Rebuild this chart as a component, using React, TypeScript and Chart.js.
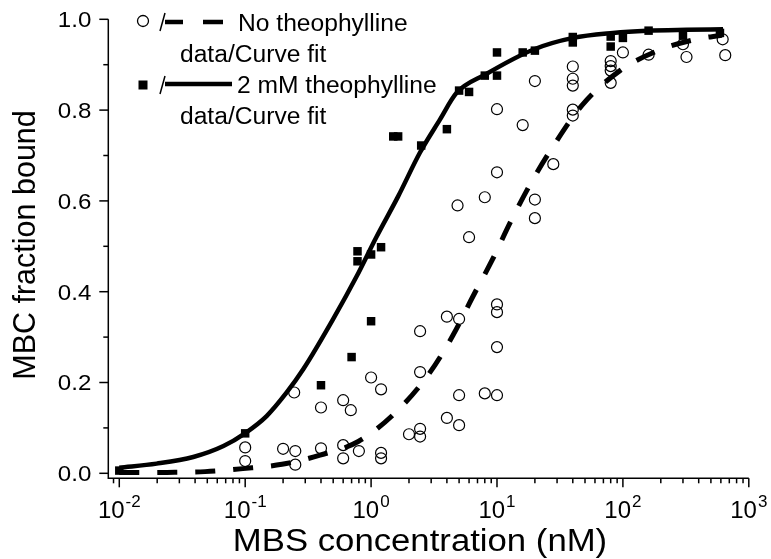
import React, { useEffect, useRef } from 'react';
import { Chart, registerables } from 'chart.js';

Chart.register(...registerables);

// ---- data ----
const theoX = [0.01, 0.1, 0.4, 0.7, 1.0, 0.78, 0.78, 1.0, 1.2, 1.5, 1.64, 2.5, 4, 5, 6, 8, 10, 10, 16, 20, 40, 40, 80, 80, 100, 160, 300, 590];
const theoY = [0.006, 0.088, 0.194, 0.256, 0.335, 0.489, 0.467, 0.482, 0.498, 0.742, 0.742, 0.722, 0.758, 0.843, 0.84, 0.876, 0.876, 0.927, 0.927, 0.931, 0.961, 0.949, 0.962, 0.94, 0.959, 0.975, 0.964, 0.97];

const noTheoX = [0.1, 0.1, 0.2, 0.25, 0.25, 0.245, 0.4, 0.4, 0.6, 0.69, 0.6, 0.6, 0.8, 1.0, 1.2, 1.2, 1.2, 2.0, 2.45, 2.45, 2.45, 2.45, 4, 5, 5, 4, 5, 8, 10, 10, 10, 10, 10, 8, 4.86, 6, 20, 20, 10, 16, 20, 28, 40, 40, 40, 40, 40, 80, 80, 80, 80, 100, 160, 300, 320, 620, 650];
const noTheoY = [0.057, 0.027, 0.054, 0.049, 0.019, 0.178, 0.145, 0.055, 0.161, 0.139, 0.062, 0.033, 0.049, 0.211, 0.185, 0.045, 0.033, 0.086, 0.098, 0.081, 0.313, 0.223, 0.345, 0.34, 0.172, 0.122, 0.106, 0.176, 0.172, 0.372, 0.355, 0.278, 0.663, 0.608, 0.59, 0.52, 0.603, 0.562, 0.802, 0.767, 0.864, 0.681, 0.896, 0.869, 0.854, 0.801, 0.788, 0.908, 0.897, 0.887, 0.86, 0.927, 0.922, 0.945, 0.917, 0.956, 0.921];

const fitTheoX = [0.01, 0.0198, 0.0387, 0.0672, 0.0996, 0.148, 0.2136, 0.289, 0.498, 0.768, 1.1, 1.64, 2.44, 3.52, 4.78, 8.03, 19.3, 40.2, 83.4, 155, 320, 624];
const fitTheoY = [0.0125, 0.0213, 0.0359, 0.06, 0.088, 0.126, 0.178, 0.229, 0.339, 0.434, 0.52, 0.61, 0.706, 0.779, 0.838, 0.878, 0.933, 0.959, 0.97, 0.975, 0.977, 0.978];

const fitNoX = [0.01, 0.0239, 0.048, 0.096, 0.196, 0.393, 0.791, 1.577, 2.88, 4.47, 6.45, 9.21, 12.87, 18.9, 28.5, 47.1, 94.8, 190, 381, 612];
const fitNoY = [0.0015, 0.002, 0.0037, 0.0103, 0.0198, 0.04, 0.07, 0.135, 0.219, 0.304, 0.39, 0.471, 0.555, 0.643, 0.724, 0.81, 0.887, 0.931, 0.956, 0.965];

const xMajorTicks = [0.01, 0.1, 1, 10, 100, 1000];
const xTickExponents = ['-2', '-1', '0', '1', '2', '3'];
const yMajorTicks = [0, 0.2, 0.4, 0.6, 0.8, 1.0];
const yTickLabels = ['0.0', '0.2', '0.4', '0.6', '0.8', '1.0'];
const yMinorTicks = [0.1, 0.3, 0.5, 0.7, 0.9];

const xTitle = 'MBS concentration (nM)';
const yTitle = 'MBC fraction bound';
const legend1 = 'No theophylline';
const legend3 = '2 mM theophylline';
const legendSub = 'data/Curve fit';

const FONT = '"Liberation Sans", Arial, sans-serif';

function pts(xs: number[], ys: number[]) {
  return xs.map((x, i) => ({ x, y: ys[i] }));
}

function txt(ctx: CanvasRenderingContext2D, s: string, x: number, y: number, size: number, align: CanvasTextAlign, sx = 1) {
  ctx.save();
  ctx.font = `${size}px ${FONT}`;
  ctx.translate(x, y);
  ctx.scale(sx, 1);
  ctx.textAlign = align;
  ctx.textBaseline = 'alphabetic';
  ctx.fillStyle = '#000';
  ctx.fillText(s, 0, 0);
  ctx.restore();
}

const axesPlugin = {
  id: 'customAxes',
  afterDraw(chart: any) {
    const ctx: CanvasRenderingContext2D = chart.ctx;
    const xs = chart.scales.x;
    const ys = chart.scales.y;
    const { left, right, top, bottom } = chart.chartArea;
    ctx.save();
    ctx.strokeStyle = '#000';
    ctx.lineWidth = 1.5;
    ctx.lineCap = 'butt';
    // axis lines
    ctx.beginPath();
    ctx.moveTo(left, top);
    ctx.lineTo(left, bottom);
    ctx.lineTo(right, bottom);
    ctx.stroke();
    // y ticks
    yMajorTicks.forEach((v, i) => {
      const py = ys.getPixelForValue(v);
      ctx.beginPath();
      ctx.moveTo(left - 9, py);
      ctx.lineTo(left, py);
      ctx.stroke();
      txt(ctx, yTickLabels[i], left - 17, py + 7.8, 21.5, 'right', 1.12);
    });
    yMinorTicks.forEach((v) => {
      const py = ys.getPixelForValue(v);
      ctx.beginPath();
      ctx.moveTo(left - 5, py);
      ctx.lineTo(left, py);
      ctx.stroke();
    });
    // x minor ticks
    for (let d = -3; d <= 2; d++) {
      for (let k = 2; k <= 9; k++) {
        const v = k * Math.pow(10, d);
        if (v < xs.min || v > xs.max) continue;
        const px = xs.getPixelForValue(v);
        ctx.beginPath();
        ctx.moveTo(px, bottom);
        ctx.lineTo(px, bottom + 5);
        ctx.stroke();
      }
    }
    // x major ticks + labels
    xMajorTicks.forEach((v, i) => {
      const px = xs.getPixelForValue(v);
      ctx.beginPath();
      ctx.moveTo(px, bottom);
      ctx.lineTo(px, bottom + 9);
      ctx.stroke();
      ctx.font = `24px ${FONT}`;
      const wb = ctx.measureText('10').width;
      ctx.font = `17px ${FONT}`;
      const we = ctx.measureText(xTickExponents[i]).width;
      const total = wb + 1 + we;
      const sx = px - total / 2;
      txt(ctx, '10', sx, 518, 24, 'left');
      txt(ctx, xTickExponents[i], sx + wb + 1, 507, 17, 'left');
    });
    // titles
    txt(ctx, xTitle, 420, 551, 31, 'center', 1.12);
    ctx.save();
    ctx.translate(35, 245);
    ctx.rotate(-Math.PI / 2);
    txt(ctx, yTitle, 0, 0, 30.5, 'center');
    ctx.restore();

    // legend
    ctx.lineWidth = 1.3;
    ctx.beginPath();
    ctx.arc(143, 21, 5.5, 0, Math.PI * 2);
    ctx.stroke();
    ctx.fillRect(138.5, 80.5, 9, 9);
    ctx.lineWidth = 1.5;
    ctx.beginPath();
    ctx.moveTo(160, 31);
    ctx.lineTo(165, 13);
    ctx.moveTo(160, 94);
    ctx.lineTo(165, 76);
    ctx.stroke();
    ctx.lineWidth = 4.5;
    ctx.beginPath();
    ctx.moveTo(165, 22);
    ctx.lineTo(183, 22);
    ctx.moveTo(203, 22);
    ctx.lineTo(223, 22);
    ctx.moveTo(165, 84);
    ctx.lineTo(232, 84);
    ctx.stroke();
    txt(ctx, legend1, 238, 30.5, 23, 'left', 1.07);
    txt(ctx, legendSub, 180, 62, 23, 'left', 1.07);
    txt(ctx, legend3, 237, 93, 23, 'left', 1.07);
    txt(ctx, legendSub, 180, 124, 23, 'left', 1.07);
    ctx.restore();
  },
};

export default function App() {
  const ref = useRef<HTMLCanvasElement | null>(null);
  useEffect(() => {
    if (!ref.current) return;
    const chart = new Chart(ref.current, {
      type: 'scatter',
      data: {
        datasets: [
          {
            label: '2 mM theophylline curve fit',
            data: pts(fitTheoX, fitTheoY),
            showLine: true,
            borderColor: '#000',
            borderWidth: 4.5,
            pointRadius: 0,
            cubicInterpolationMode: 'monotone',
            order: 0,
            clip: false,
          } as any,
          {
            label: 'No theophylline curve fit',
            data: pts(fitNoX, fitNoY),
            showLine: true,
            borderColor: '#000',
            borderWidth: 5,
            borderDash: [20, 18],
            borderCapStyle: 'butt',
            pointRadius: 0,
            cubicInterpolationMode: 'monotone',
            order: 0,
            clip: false,
          } as any,
          {
            label: '2 mM theophylline data',
            data: pts(theoX, theoY),
            showLine: false,
            pointStyle: 'rect',
            pointRadius: 6,
            backgroundColor: '#000',
            borderColor: '#000',
            borderWidth: 0,
            order: 1,
            clip: false,
          } as any,
          {
            label: 'No theophylline data',
            data: pts(noTheoX, noTheoY),
            showLine: false,
            pointStyle: 'circle',
            pointRadius: 5.5,
            backgroundColor: 'rgba(0,0,0,0)',
            borderColor: '#000',
            borderWidth: 1.2,
            order: 2,
            clip: false,
          } as any,
        ],
      },
      options: {
        responsive: false,
        animation: false,
        devicePixelRatio: 1,
        events: [],
        layout: { padding: { left: 108.3, right: 22.2, top: 19.3, bottom: 80.7 } },
        scales: {
          x: { type: 'logarithmic', min: 0.00818, max: 1000, display: false },
          y: { type: 'linear', min: -0.011, max: 1.0, display: false },
        },
        plugins: { legend: { display: false }, tooltip: { enabled: false } },
      },
      plugins: [axesPlugin],
    });
    return () => chart.destroy();
  }, []);
  return (
    <div style={{ position: 'fixed', left: 0, top: 0, width: 771, height: 559, background: '#fff' }}>
      <canvas ref={ref} width={771} height={559} style={{ width: 771, height: 559 }} />
    </div>
  );
}
